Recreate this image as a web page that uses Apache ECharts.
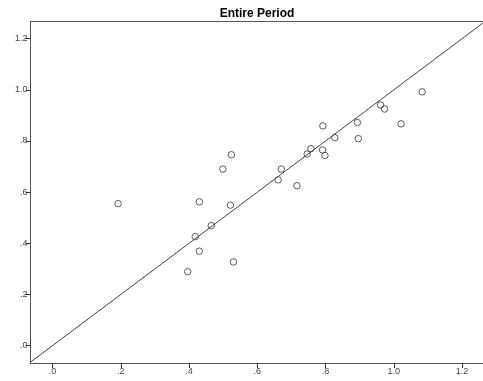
<!DOCTYPE html>
<html><head><meta charset="utf-8">
<script src="https://cdn.jsdelivr.net/npm/echarts@6/dist/echarts.min.js"></script>
<style>html,body{margin:0;padding:0;background:#fff}#c{width:483px;height:381px}</style>
</head><body><div id="c"></div>
<script>
const title = "Entire Period";
const xValues = [0.192,0.396,0.418,0.430,0.430,0.465,0.499,0.521,0.524,0.530,0.661,0.670,0.716,0.746,0.757,0.791,0.792,0.798,0.827,0.893,0.896,0.961,0.973,1.021,1.083];
const yValues = [0.555,0.289,0.426,0.369,0.562,0.469,0.690,0.549,0.746,0.327,0.648,0.690,0.625,0.749,0.770,0.765,0.859,0.743,0.813,0.872,0.809,0.941,0.925,0.867,0.992];
const tickValues = [0, 0.2, 0.4, 0.6, 0.8, 1.0, 1.2];
const refLine = [[-0.2, -0.2], [1.4, 1.4]];

function fmt(v){
  const s = (Math.round(v*10)/10).toFixed(1);
  return s.startsWith('0') ? s.slice(1) : s;
}
const points = xValues.map((x,i)=>[x,yValues[i]]);
const chart = echarts.init(document.getElementById('c'), null, {renderer:'canvas'});
const axisCommon = {
  type:'value',
  splitLine:{show:false},
  axisLine:{show:true,onZero:false,lineStyle:{color:'#555',width:1}},
  axisTick:{show:true,length:5,lineStyle:{color:'#333'},customValues:tickValues},
  axisLabel:{color:'#444',fontSize:9,fontFamily:'Arial, Liberation Sans, sans-serif',customValues:tickValues,formatter:fmt}
};
chart.setOption({
  animation:false,
  title:{text:title,left:252,top:3,textAlign:'center',textStyle:{fontSize:12,fontWeight:'bold',color:'#000',fontFamily:'Arial, Liberation Sans, sans-serif'}},
  grid:{left:30.5,top:21.5,right:-5,bottom:18,show:false},
  xAxis:[Object.assign({}, axisCommon, {min:-0.0646,max:1.2612,axisLabel:Object.assign({},axisCommon.axisLabel,{margin:4})}),
         {type:'value',position:'top',min:-0.0646,max:1.2612,axisLine:{show:true,onZero:false,lineStyle:{color:'#555'}},axisTick:{show:false},axisLabel:{show:false},splitLine:{show:false}}],
  yAxis:Object.assign({}, axisCommon, {min:-0.068,max:1.267,axisLabel:Object.assign({},axisCommon.axisLabel,{margin:3})}),
  series:[
    {type:'line',data:refLine,symbol:'none',clip:true,lineStyle:{color:'#444',width:1},silent:true},
    {type:'scatter',data:points,symbol:'circle',symbolSize:6.5,itemStyle:{color:'rgba(255,255,255,0)',borderColor:'#333',borderWidth:1}}
  ]
});
</script></body></html>
